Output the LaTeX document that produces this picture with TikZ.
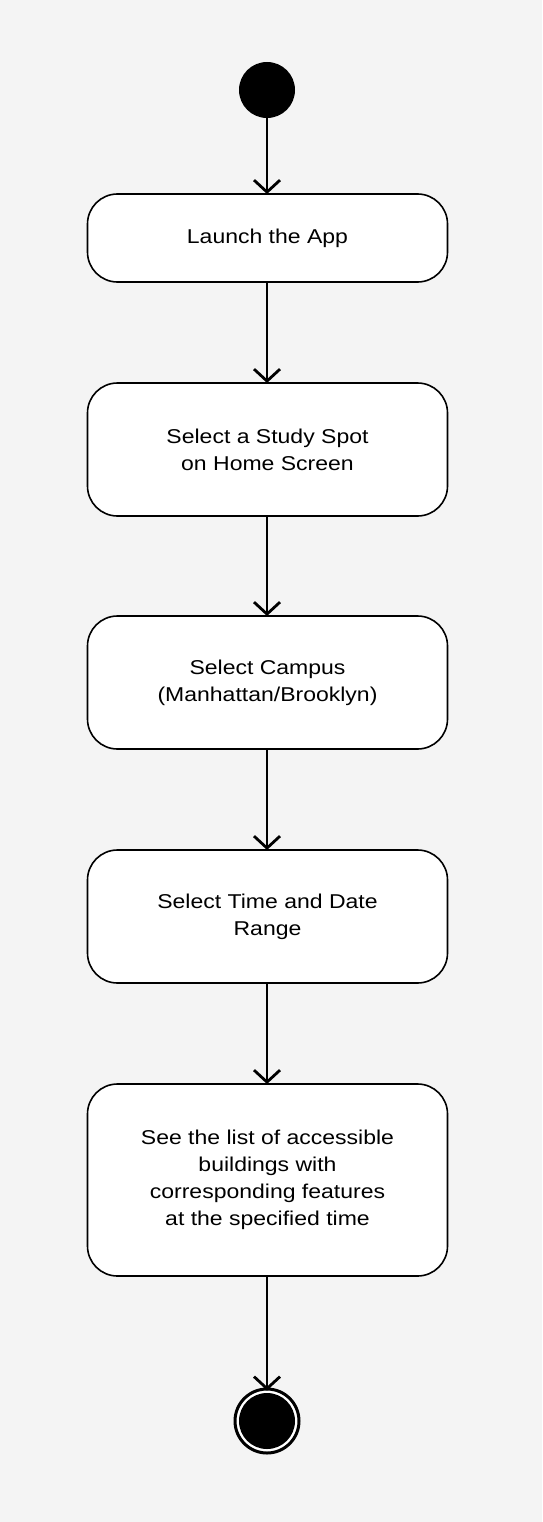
\documentclass[tikz,border=0pt]{standalone}
\usepackage{fontspec}
\setmainfont{Liberation Sans}[FakeStretch=1.15]
\usetikzlibrary{arrows.meta}
\definecolor{bgcol}{HTML}{F4F4F4}
\tikzset{
  actbox/.style={draw=black, line width=1.6pt, fill=white, rounded corners=30pt,
    minimum width=360pt, align=center, inner sep=0pt, outer sep=0pt,
    font=\fontsize{20}{27}\selectfont},
  flow/.style={line width=2.8pt, -{Straight Barb[length=12pt,width=26pt,line width=2.8pt]}},
  startnode/.style={circle, fill=black, minimum size=56pt, inner sep=0pt, outer sep=0pt},
  endring/.style={circle, draw=black, line width=3pt, fill=white, minimum size=64pt, inner sep=0pt, outer sep=0pt},
  enddot/.style={circle, fill=black, minimum size=56pt, inner sep=0pt}
}
\begin{document}
\begin{tikzpicture}[x=1pt,y=-1pt]
\fill[bgcol] (0,0) rectangle (542,1522);
\useasboundingbox (0,0) rectangle (542,1522);
\node[startnode] (start) at (267,90) {};
\node[actbox, minimum height=88pt] (b1) at (267.5,238) {Launch the App};
\node[actbox, minimum height=133pt] (b2) at (267.5,449.5) {Select a Study Spot\\on Home Screen};
\node[actbox, minimum height=133pt] (b3) at (267.5,682.5) {Select Campus\\(Manhattan/Brooklyn)};
\node[actbox, minimum height=133pt] (b4) at (267.5,916.5) {Select Time and Date\\Range};
\node[actbox, minimum height=192pt] (b5) at (267.5,1180) {See the list of accessible\\buildings with\\corresponding features\\at the specified time};
\node[endring] (end) at (267,1421) {};
\node[enddot] (enddot) at (267,1421) {};
\draw[flow] (start) -- (start |- b1.north);
\draw[flow] (b1.south -| start) -- (start |- b2.north);
\draw[flow] (b2.south -| start) -- (start |- b3.north);
\draw[flow] (b3.south -| start) -- (start |- b4.north);
\draw[flow] (b4.south -| start) -- (start |- b5.north);
\draw[flow] (b5.south -| start) -- ([yshift=-1.5pt]end.north);
\end{tikzpicture}
\end{document}
